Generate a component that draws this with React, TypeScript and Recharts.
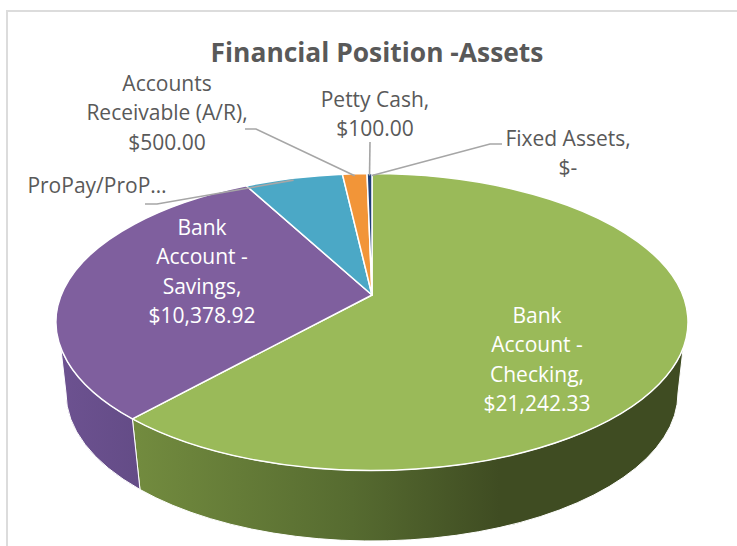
import { PieChart, Pie } from 'recharts';

const categories = ['Bank Account - Checking', 'Bank Account - Savings', 'ProPay/ProPal', 'Accounts Receivable (A/R)', 'Petty Cash', 'Fixed Assets'];
const amounts = [21242.33, 10378.92, 2000, 500, 100, 0];
const sliceColors = ['#9aba59', '#7f5f9e', '#4ba8c6', '#f29538', '#1f3f77', '#c0504d'];
const sliceLabels = [
  ['Bank', 'Account -', 'Checking,', '$21,242.33'],
  ['Bank', 'Account -', 'Savings,', '$10,378.92'],
  ['ProPay/ProP…'],
  ['Accounts', 'Receivable (A/R),', '$500.00'],
  ['Petty Cash,', '$100.00'],
  ['Fixed Assets,', '$-'],
];

const data = categories.map((name, i) => ({ name, value: amounts[i], index: i }));

// chart layout, everything in page pixels
const W = 737;
const H = 546;
const CX = 372;
const TOP_CY = 322;
const TOP_RX = 316;
const TOP_RY = 148.5;
const APEX_Y = 295;
const BOTTOM_CY = 393;
const BOTTOM_RX = 306;
const BOTTOM_RY = 148;
const LINE_H = 29.3;

// first line y, centre x for each label
const labelPos = [
  { x: 537, y: 315 },
  { x: 202, y: 227 },
  { x: 97, y: 185 },
  { x: 167, y: 83 },
  { x: 375, y: 99 },
  { x: 568, y: 138 },
];
// leader line elbows, from the text end to the pie
const leaders: (number[][] | null)[] = [
  null,
  null,
  [[145, 204], [157, 204]],
  [[245, 129], [256, 129]],
  [[370, 142]],
  [[502, 144], [490, 144]],
];

// the 3D perspective stretches the front of the pie a bit
const warp = (deg: number) => deg - 8.5 * Math.sin((deg * Math.PI) / 180);

const rim = (deg: number, cy: number, rx: number, ry: number) => {
  const a = (deg * Math.PI) / 180;
  return [CX + rx * Math.sin(a), cy - ry * Math.cos(a)];
};

function TopSlice(props: any) {
  const from = warp(90 - props.startAngle);
  const to = warp(90 - props.endAngle);
  if (to - from <= 0) return <g />;
  const [x1, y1] = rim(from, TOP_CY, TOP_RX, TOP_RY);
  const [x2, y2] = rim(to, TOP_CY, TOP_RX, TOP_RY);
  const large = to - from > 180 ? 1 : 0;
  const d = `M${CX} ${APEX_Y}L${x1} ${y1}A${TOP_RX} ${TOP_RY} 0 ${large} 1 ${x2} ${y2}Z`;
  return <path d={d} fill={sliceColors[props.index]} stroke="#fff" strokeWidth={1.5} strokeLinejoin="round" />;
}

function WallSlice(props: any) {
  const from = warp(90 - props.startAngle);
  const to = warp(90 - props.endAngle);
  const a = Math.max(from, 100);
  const b = Math.min(to, 260);
  if (b <= a) return <g />;
  const c = Math.max(from, 90);
  const e = Math.min(to, 270);
  const [x1, y1] = rim(a, TOP_CY, TOP_RX, TOP_RY);
  const [x2, y2] = rim(b, TOP_CY, TOP_RX, TOP_RY);
  const [x3, y3] = rim(e, BOTTOM_CY, BOTTOM_RX, BOTTOM_RY);
  const [x4, y4] = rim(c, BOTTOM_CY, BOTTOM_RX, BOTTOM_RY);
  const d =
    `M${x1} ${y1}A${TOP_RX} ${TOP_RY} 0 0 1 ${x2} ${y2}L${x3} ${y3}` +
    `A${BOTTOM_RX} ${BOTTOM_RY} 0 0 0 ${x4} ${y4}Z`;
  return <path d={d} fill={`url(#wall${props.index})`} stroke="#fff" strokeWidth={1} />;
}

function SliceLabel(props: any) {
  const i = props.index;
  const pos = labelPos[i];
  const inside = i < 2;
  const leader = leaders[i];
  const end = rim(warp(90 - props.midAngle), TOP_CY, TOP_RX, TOP_RY);
  return (
    <g>
      {leader && (
        <polyline
          points={[...leader, [end[0], end[1] + 2]].map((p) => p.join(',')).join(' ')}
          fill="none"
          stroke="#a6a6a6"
          strokeWidth={1.6}
        />
      )}
      <text
        x={pos.x}
        y={pos.y}
        textAnchor="middle"
        dominantBaseline="central"
        fontFamily="Open Sans"
        fontSize={21}
        fill={inside ? '#ffffff' : '#595959'}
      >
        {sliceLabels[i].map((line, k) => (
          <tspan key={k} x={pos.x} y={pos.y + k * LINE_H}>
            {line}
          </tspan>
        ))}
      </text>
    </g>
  );
}

export default function App() {
  return (
    <div style={{ position: 'absolute', left: 0, top: 0, width: W, height: H, background: '#fff', overflow: 'hidden' }}>
      <div
        style={{
          position: 'absolute',
          left: 6,
          top: 10,
          width: W,
          height: H,
          borderLeft: '2px solid #dcdcdc',
          borderTop: '2px solid #dcdcdc',
        }}
      />
      <div
        style={{
          position: 'absolute',
          left: 0,
          top: 35,
          width: 754,
          textAlign: 'center',
          fontFamily: 'Open Sans',
          fontWeight: 700,
          fontSize: 26.4,
          lineHeight: '34px',
          color: '#595959',
        }}
      >
        Financial Position -Assets
      </div>
      <PieChart width={W} height={H} margin={{ top: 0, right: 0, bottom: 0, left: 0 }} style={{ position: 'absolute', left: 0, top: 0 }}>
        <defs>
          <linearGradient id="wall0" gradientUnits="userSpaceOnUse" x1={130} y1={0} x2={500} y2={0}>
            <stop offset="0%" stopColor="#738c3f" />
            <stop offset="60%" stopColor="#566b30" />
            <stop offset="100%" stopColor="#3f4c22" />
          </linearGradient>
          <linearGradient id="wall1" gradientUnits="userSpaceOnUse" x1={56} y1={0} x2={136} y2={0}>
            <stop offset="0%" stopColor="#6d5291" />
            <stop offset="100%" stopColor="#644c87" />
          </linearGradient>
        </defs>
        <Pie
          data={data}
          dataKey="value"
          cx={CX}
          cy={BOTTOM_CY}
          outerRadius={BOTTOM_RX}
          startAngle={90}
          endAngle={-270}
          shape={WallSlice}
          label={false}
          labelLine={false}
          isAnimationActive={false}
        />
        <Pie
          data={data}
          dataKey="value"
          cx={CX}
          cy={TOP_CY}
          outerRadius={TOP_RX}
          startAngle={90}
          endAngle={-270}
          shape={TopSlice}
          label={SliceLabel}
          labelLine={false}
          isAnimationActive={false}
        />
      </PieChart>
    </div>
  );
}
